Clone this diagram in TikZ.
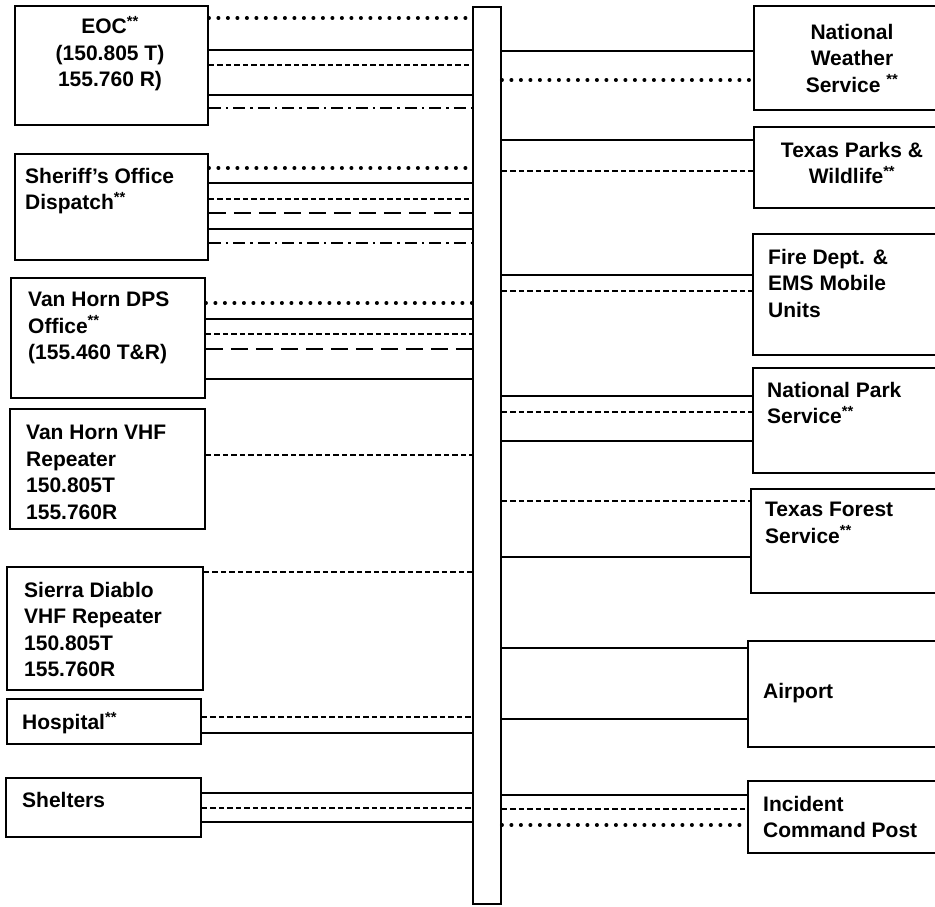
\documentclass[tikz,border=0pt]{standalone}
\usepackage{fontspec}
\setmainfont{Liberation Sans}
\usepackage{tikz}
\usetikzlibrary{positioning, calc}
\tikzset{
  %% ---- boxes ----
  unit/.style   = {rectangle, draw=black, line width=1.8pt,
                   inner sep=0pt, anchor=north west},
  bus/.style    = {rectangle, draw=black, line width=1.8pt,
                   inner sep=0pt, anchor=north west,
                   minimum width=28pt, minimum height=897pt},
  txt/.style    = {inner sep=0pt, align=left, anchor=north west,
                   font=\fontsize{21}{26.5}\selectfont\bfseries},
  ctxt/.style   = {txt, align=center, anchor=north},
  %% ---- links ----
  wire/.style   = {line width=1.8pt},
  dotwire/.style= {line width=3.8pt, line cap=round,
                   dash pattern=on 0.2pt off 9.3pt},
  dashwire/.style={line width=1.5pt, dash pattern=on 5.5pt off 3pt},
  longwire/.style={line width=2.4pt, dash pattern=on 17pt off 8pt},
  dotdashwire/.style={line width=1.6pt,
                   dash pattern=on 12pt off 5pt on 2.5pt off 5pt},
}
\begin{document}
\begin{tikzpicture}[x=1pt, y=-1pt]

  \clip (0,0) rectangle (935,906);

  %% Central bus
  \node[bus] (bar) at (472,6) {};

  %% Left column
  \node[unit, minimum width=193pt, minimum height=119pt] (eoc) at (14,5) {};
  \node[unit, minimum width=193pt, minimum height=106pt] (sheriff) at (14,153) {};
  \node[unit, minimum width=194pt, minimum height=120pt] (dps) at (10,277) {};
  \node[unit, minimum width=195pt, minimum height=120pt] (vhf) at (9,408) {};
  \node[unit, minimum width=196pt, minimum height=123pt] (sierra) at (6,566) {};
  \node[unit, minimum width=194pt, minimum height=45pt] (hospital) at (6,698) {};
  \node[unit, minimum width=195pt, minimum height=59pt] (shelters) at (5,777) {};

  \node[ctxt] (eoct) at ([shift={(96pt,-11pt)}]eoc.north west)
    {EOC\textsuperscript{**}\\(150.805 T)\\155.760 R)};
  \node[txt] (sherifft) at ([shift={(11pt,-15pt)}]sheriff.north west)
    {Sheriff's Office\\Dispatch\textsuperscript{**}};
  \node[txt] (dpst) at ([shift={(18pt,-15pt)}]dps.north west)
    {Van Horn DPS\\Office\textsuperscript{**}\\(155.460 T\&R)};
  \node[txt] (vhft) at ([shift={(17pt,-17pt)}]vhf.north west)
    {Van Horn VHF\\Repeater\\150.805T\\155.760R};
  \node[txt] (sierrat) at ([shift={(18pt,-16pt)}]sierra.north west)
    {Sierra Diablo\\VHF Repeater\\150.805T\\155.760R};
  \node[txt] (hospitalt) at ([shift={(16pt,-14pt)}]hospital.north west)
    {Hospital\textsuperscript{**}};
  \node[txt] (shelterst) at ([shift={(17pt,-15pt)}]shelters.north west)
    {Shelters};

  %% Right column
  \node[unit, minimum width=197pt, minimum height=104pt] (nws) at (753,5) {};
  \node[unit, minimum width=197pt, minimum height=81pt] (tpw) at (753,126) {};
  \node[unit, minimum width=198pt, minimum height=121pt] (fire) at (752,233) {};
  \node[unit, minimum width=198pt, minimum height=105pt] (nps) at (752,367) {};
  \node[unit, minimum width=200pt, minimum height=104pt] (tfs) at (750,488) {};
  \node[unit, minimum width=203pt, minimum height=106pt] (airport) at (747,640) {};
  \node[unit, minimum width=203pt, minimum height=72pt] (icp) at (747,780) {};

  \node[ctxt] (nwst) at ([shift={(99pt,-19pt)}]nws.north west)
    {National\\Weather\\Service \textsuperscript{**}};
  \node[ctxt] (tpwt) at ([shift={(99pt,-16pt)}]tpw.north west)
    {Texas Parks \&\\Wildlife\textsuperscript{**}};
  \node[txt] (firet) at ([shift={(16pt,-16pt)}]fire.north west)
    {Fire Dept. \&\\EMS Mobile\\Units};
  \node[txt] (npst) at ([shift={(15pt,-15pt)}]nps.north west)
    {National Park\\Service\textsuperscript{**}};
  \node[txt] (tfst) at ([shift={(15pt,-14pt)}]tfs.north west)
    {Texas Forest\\Service\textsuperscript{**}};
  \node[txt] (airportt) at ([shift={(16pt,-43pt)}]airport.north west)
    {Airport};
  \node[txt] (icpt) at ([shift={(16pt,-16pt)}]icp.north west)
    {Incident\\Command Post};

  %% Links, left side
  \foreach \s/\y in {dotwire/18, wire/50, dashwire/65, wire/95, dotdashwire/108}
    \draw[\s] (eoc.east |- 0,\y) -- (bar.west |- 0,\y);
  \foreach \s/\y in {dotwire/168, wire/183, dashwire/199, longwire/213,
                     wire/229, dotdashwire/243}
    \draw[\s] (sheriff.east |- 0,\y) -- (bar.west |- 0,\y);
  \foreach \s/\y in {dotwire/303, wire/319, dashwire/334, longwire/349, wire/379}
    \draw[\s] (dps.east |- 0,\y) -- (bar.west |- 0,\y);
  \draw[dashwire] (vhf.east |- 0,455) -- (bar.west |- 0,455);
  \draw[dashwire] (sierra.east |- 0,572) -- (bar.west |- 0,572);
  \foreach \s/\y in {dashwire/717, wire/733}
    \draw[\s] (hospital.east |- 0,\y) -- (bar.west |- 0,\y);
  \foreach \s/\y in {wire/793, dashwire/808, wire/822}
    \draw[\s] (shelters.east |- 0,\y) -- (bar.west |- 0,\y);

  %% Links, right side
  \foreach \s/\y in {wire/51, dotwire/80}
    \draw[\s] (bar.east |- 0,\y) -- (nws.west |- 0,\y);
  \foreach \s/\y in {wire/140, dashwire/171}
    \draw[\s] (bar.east |- 0,\y) -- (tpw.west |- 0,\y);
  \foreach \s/\y in {wire/275, dashwire/291}
    \draw[\s] (bar.east |- 0,\y) -- (fire.west |- 0,\y);
  \foreach \s/\y in {wire/396, dashwire/412, wire/441}
    \draw[\s] (bar.east |- 0,\y) -- (nps.west |- 0,\y);
  \foreach \s/\y in {dashwire/501, wire/557}
    \draw[\s] (bar.east |- 0,\y) -- (tfs.west |- 0,\y);
  \foreach \s/\y in {wire/648, wire/719}
    \draw[\s] (bar.east |- 0,\y) -- (airport.west |- 0,\y);
  \foreach \s/\y in {wire/795, dashwire/809, dotwire/825}
    \draw[\s] (bar.east |- 0,\y) -- (icp.west |- 0,\y);

\end{tikzpicture}
\end{document}
